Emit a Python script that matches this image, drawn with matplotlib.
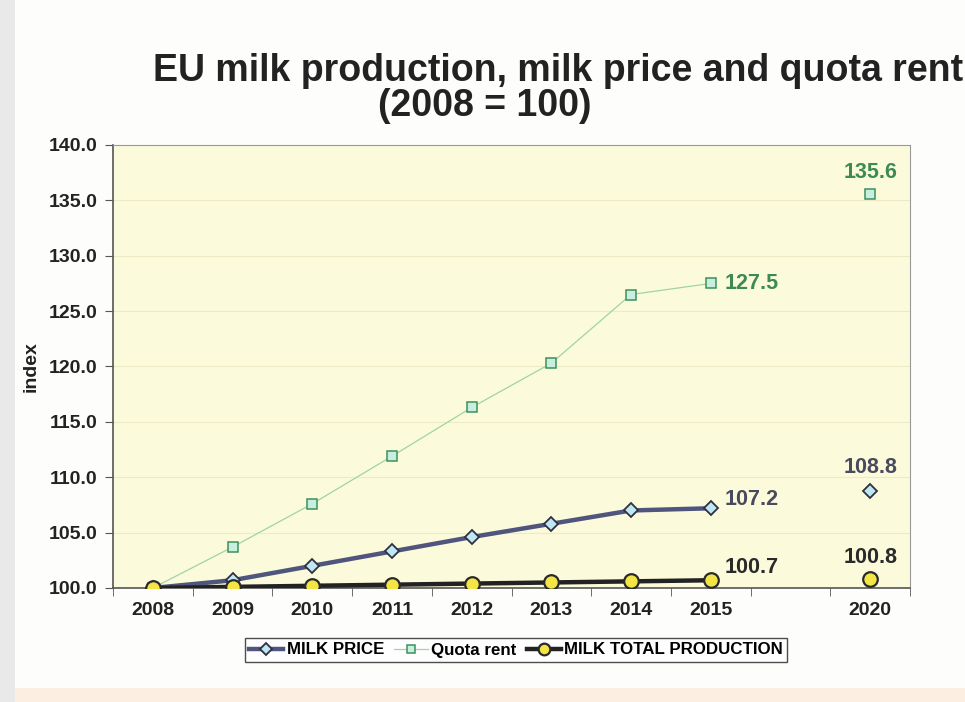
import matplotlib
matplotlib.use("Agg")
import matplotlib.pyplot as plt
from matplotlib.patches import Rectangle
import numpy as np

plt.rcParams['font.family'] = ['Liberation Sans', 'DejaVu Sans']

years = ["2008", "2009", "2010", "2011", "2012", "2013", "2014", "2015", "", "2020"]
milk_price = [100.0, 100.7, 102.0, 103.3, 104.6, 105.8, 107.0, 107.2, None, 108.8]
quota_rent = [100.0, 103.7, 107.6, 111.9, 116.3, 120.3, 126.5, 127.5, None, 135.6]
milk_production = [100.0, 100.1, 100.2, 100.3, 100.4, 100.5, 100.6, 100.7, None, 100.8]
yticks = [100, 105, 110, 115, 120, 125, 130, 135, 140]

def arr(v):
    return np.array([np.nan if x is None else x for x in v], dtype=float)

x = np.arange(len(years))

fig = plt.figure(figsize=(9.65, 7.02), dpi=100)
fig.patch.set_facecolor('#fdfdfb')
# scan artefacts: left striped margin, bottom peach strip
fig.patches.append(Rectangle((0, 0), 15/965, 1, transform=fig.transFigure,
                             facecolor='#e9e9e9', edgecolor='none', zorder=0))
fig.patches.append(Rectangle((15/965, 0), 1, 14/702, transform=fig.transFigure,
                             facecolor='#fcefe2', edgecolor='none', zorder=0))

ax = fig.add_axes([113/965, 1 - 588/702, (910 - 113)/965, (588 - 145)/702])
ax.set_facecolor('#fbfbdc')

mp = arr(milk_price)
qr = arr(quota_rent)
pr = arr(milk_production)

ax.plot(x, qr, color='#9fd4a4', lw=0.9, marker='s', ms=7, mfc='#c6f0dd',
        mec='#3f8f5f', mew=1.1, label='Quota rent', zorder=3)
ax.plot(x, mp, color='#50557e', lw=3.2, marker='D', ms=7.5, mfc='#bfe6f3',
        mec='#2f3040', mew=1.3, label='MILK PRICE', zorder=4)
ax.plot(x, pr, color='#222222', lw=3.2, marker='o', ms=10.5, mfc='#f2e545',
        mec='#2a2a2a', mew=1.6, label='MILK TOTAL PRODUCTION', zorder=5)

# data labels
lab = dict(fontsize=15.5, fontweight='bold')
ax.annotate(f"{quota_rent[7]:.1f}", (x[7], quota_rent[7]), xytext=(10, 0),
            textcoords='offset points', va='center', ha='left', color='#3d8a55', **lab)
ax.annotate(f"{quota_rent[9]:.1f}", (x[9], quota_rent[9]), xytext=(0, 8),
            textcoords='offset points', va='bottom', ha='center', color='#3d8a55', **lab)
ax.annotate(f"{milk_price[7]:.1f}", (x[7], milk_price[7]), xytext=(10, 6),
            textcoords='offset points', va='center', ha='left', color='#4a4a5e', **lab)
ax.annotate(f"{milk_price[9]:.1f}", (x[9], milk_price[9]), xytext=(0, 9),
            textcoords='offset points', va='bottom', ha='center', color='#4a4a5e', **lab)
ax.annotate(f"{milk_production[7]:.1f}", (x[7], milk_production[7]), xytext=(10, 9),
            textcoords='offset points', va='center', ha='left', color='#2a2a2a', **lab)
ax.annotate(f"{milk_production[9]:.1f}", (x[9], milk_production[9]), xytext=(0, 8),
            textcoords='offset points', va='bottom', ha='center', color='#2a2a2a', **lab)

ax.set_xlim(-0.5, len(years) - 0.5)
ax.set_ylim(100, 140)
ax.set_yticks(yticks)
ax.set_yticklabels([f"{v:.1f}" for v in yticks], fontsize=14, fontweight='bold', color='#222222')
ax.set_xticks(x)
ax.set_xticklabels(years, fontsize=14, fontweight='bold', color='#222222')
ax.set_xticks(np.arange(-0.5, len(years), 1.0), minor=True)
ax.tick_params(axis='x', which='major', length=0, pad=10)
ax.tick_params(axis='x', which='minor', length=6, color='#555555')
ax.tick_params(axis='y', length=6, color='#555555', pad=5)
ax.set_ylabel('index', fontsize=14, fontweight='bold', color='#222222')
ax.yaxis.set_label_coords((40 - 113) / 797, 0.50)

ax.grid(axis='y', color='#ecebc6', lw=0.8)
ax.set_axisbelow(True)
for s in ['top', 'right']:
    ax.spines[s].set_color('#999999')
for s in ['left', 'bottom']:
    ax.spines[s].set_color('#555555')
    ax.spines[s].set_linewidth(1.2)

fig.text(558/965, 1 - 71/702, 'EU milk production, milk price and quota rent',
         ha='center', va='center', fontsize=27, fontweight='bold', color='#222222')
fig.text(485/965, 1 - 106/702, '(2008 = 100)',
         ha='center', va='center', fontsize=27, fontweight='bold', color='#222222')

handles, labels = ax.get_legend_handles_labels()
order = [1, 0, 2]
leg = fig.legend([handles[i] for i in order], [labels[i] for i in order],
                 loc='center', bbox_to_anchor=(516/965, 1 - 650/702), ncol=3,
                 frameon=True, fancybox=False, edgecolor='#222222',
                 prop={'size': 12.2, 'weight': 'bold'}, handlelength=2.0,
                 handletextpad=0.2, columnspacing=0.6, borderpad=0.25,
                 markerscale=0.8)
leg.get_frame().set_linewidth(1.0)

fig.savefig('out.png', dpi=100, facecolor=fig.get_facecolor())
